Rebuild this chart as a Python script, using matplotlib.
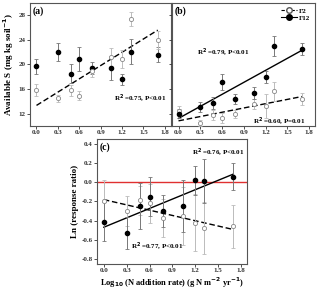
import numpy as np
import matplotlib
matplotlib.use('Agg')
import matplotlib.pyplot as plt
from matplotlib.ticker import FormatStrFormatter

plt.rcParams['font.family'] = ['Liberation Serif', 'DejaVu Serif']
plt.rcParams['font.weight'] = 'bold'
plt.rcParams['axes.labelweight'] = 'bold'

# log10 N addition rate
logN = [0.0, 0.3, 0.48, 0.6, 0.78, 1.04, 1.2, 1.32, 1.7]

# (a) available S
a_filled = [19.7, 22.0, 18.5, 20.9, 19.4, 19.4, 17.6, 22.05, 21.6]
a_filled_err = [1.2, 1.4, 1.5, 2.0, 1.0, 1.9, 0.9, 2.0, 1.2]
a_open = [15.8, 14.5, 15.8, 14.9, 18.9, 21.2, 20.9, 27.4, 24.0]
a_open_err = [1.0, 0.6, 0.9, 0.7, 0.9, 1.4, 1.5, 1.2, 1.5]

# (b) F2 / F12
b_f12 = [12.0, 13.1, 13.75, 17.2, 14.4, 15.4, 17.9, 23.0, 22.5]
b_f12_err = [0.7, 0.8, 1.0, 1.3, 0.8, 1.0, 1.0, 1.6, 0.9]
b_f2 = [12.4, 10.5, 11.7, 11.3, 11.9, 13.6, 13.2, 15.6, 14.4]
b_f2_err = [0.8, 0.5, 0.8, 0.8, 0.6, 0.8, 2.0, 1.5, 1.0]

# (c) ln response ratio
c_filled = [-0.41, -0.53, -0.25, -0.15, -0.30, -0.25, 0.02, 0.01, 0.055]
c_filled_err = [0.20, 0.17, 0.24, 0.20, 0.17, 0.27, 0.15, 0.23, 0.14]
c_open = [-0.195, -0.30, -0.19, -0.22, -0.37, -0.355, -0.42, -0.48, -0.46]
c_open_err = [0.22, 0.16, 0.15, 0.20, 0.20, 0.30, 0.30, 0.27, 0.22]

fig = plt.figure(figsize=(3.2, 2.9), dpi=100)
axA = fig.add_axes([0.094, 0.566, 0.439, 0.424])
axB = fig.add_axes([0.5375, 0.566, 0.4465, 0.424])
axC = fig.add_axes([0.303, 0.09, 0.469, 0.431])

x = np.array(logN)


def style(ax):
    for s in ax.spines.values():
        s.set_color('#555555')
        s.set_linewidth(0.8)
    ax.tick_params(direction='out', length=2, width=0.6, labelsize=5, pad=1.2, colors='#333333')
    ax.set_xlim(-0.09, 1.88)
    ax.set_xticks(np.arange(0, 1.81, 0.3))
    ax.xaxis.set_major_formatter(FormatStrFormatter('%.1f'))


def points(ax, y, err, filled):
    if filled:
        ax.errorbar(x, y, yerr=err, fmt='o', ms=3.0, mfc='black', mec='black',
                    ecolor='#777777', elinewidth=0.7, capsize=1.2, capthick=0.6, zorder=3)
    else:
        ax.errorbar(x, y, yerr=err, fmt='o', ms=3.0, mfc='white', mec='#888888', mew=0.6,
                    ecolor='#bbbbbb', elinewidth=0.7, capsize=1.2, capthick=0.6, zorder=3)


def fitline(ax, y, ls):
    k, b = np.polyfit(x, y, 1)
    xs = np.array([x.min(), x.max()])
    ax.plot(xs, k * xs + b, color='black', ls=ls, lw=1.0, zorder=2)


# (a)
style(axA)
points(axA, a_filled, a_filled_err, True)
points(axA, a_open, a_open_err, False)
fitline(axA, a_open, (0, (4, 2)))
axA.set_ylim(10, 30)
axA.set_yticks([12, 16, 20, 24, 28])
axA.set_ylabel('Available S (mg kg soil$^{-1}$)', fontsize=6.5, labelpad=2)
axA.text(0.02, 0.97, '(a)', transform=axA.transAxes, fontsize=7, fontweight='bold', va='top')
axA.text(1.09, 14.4, 'R$^2$ =0.75, P<0.01', fontsize=5, fontweight='bold', va='center')

# (b)
style(axB)
points(axB, b_f2, b_f2_err, False)
points(axB, b_f12, b_f12_err, True)
fitline(axB, b_f2, (0, (4, 2)))
fitline(axB, b_f12, '-')
axB.set_ylim(10, 30)
axB.set_yticks([12, 16, 20, 24, 28])
axB.set_yticklabels([])
axB.text(0.02, 0.97, '(b)', transform=axB.transAxes, fontsize=7, fontweight='bold', va='top')
axB.text(0.25, 21.9, 'R$^2$ =0.79, P<0.01', fontsize=5, fontweight='bold', va='center')
axB.text(1.02, 10.7, 'R$^2$ =0.60, P=0.01', fontsize=5, fontweight='bold', va='center')
h1, = axB.plot([], [], ls=(0, (3, 1.5)), color='black', lw=0.8, marker='o', ms=4,
               mfc='white', mec='#555555', label='F2')
h2, = axB.plot([], [], ls='-', color='black', lw=0.8, marker='o', ms=4,
               mfc='black', mec='black', label='F12')
axB.legend(handles=[h1, h2], loc='upper right', frameon=False, fontsize=5,
           handlelength=2.2, handletextpad=0.3, labelspacing=0.2, borderaxespad=0.3)

# (c)
style(axC)
axC.axhline(0, color='#e03030', lw=1.0, zorder=1)
points(axC, c_open, c_open_err, False)
points(axC, c_filled, c_filled_err, True)
fitline(axC, c_open, (0, (4, 2)))
fitline(axC, c_filled, '-')
axC.set_ylim(-0.85, 0.45)
axC.set_yticks([-0.8, -0.6, -0.4, -0.2, 0.0, 0.2, 0.4])
axC.yaxis.set_major_formatter(FormatStrFormatter('%.1f'))
axC.set_ylabel('Ln (response ratio)', fontsize=6.5, labelpad=2)
axC.set_xlabel('Log$_{10}$ (N addition rate) (g N m$^{-2}$ yr$^{-1}$)', fontsize=6, labelpad=1.5)
axC.text(0.02, 0.97, '(c)', transform=axC.transAxes, fontsize=7, fontweight='bold', va='top')
axC.text(1.16, 0.30, 'R$^2$ =0.76, P<0.01', fontsize=5, fontweight='bold', va='center')
axC.text(0.36, -0.67, 'R$^2$ =0.77, P<0.01', fontsize=5, fontweight='bold', va='center')

fig.savefig('out.png', dpi=100)
